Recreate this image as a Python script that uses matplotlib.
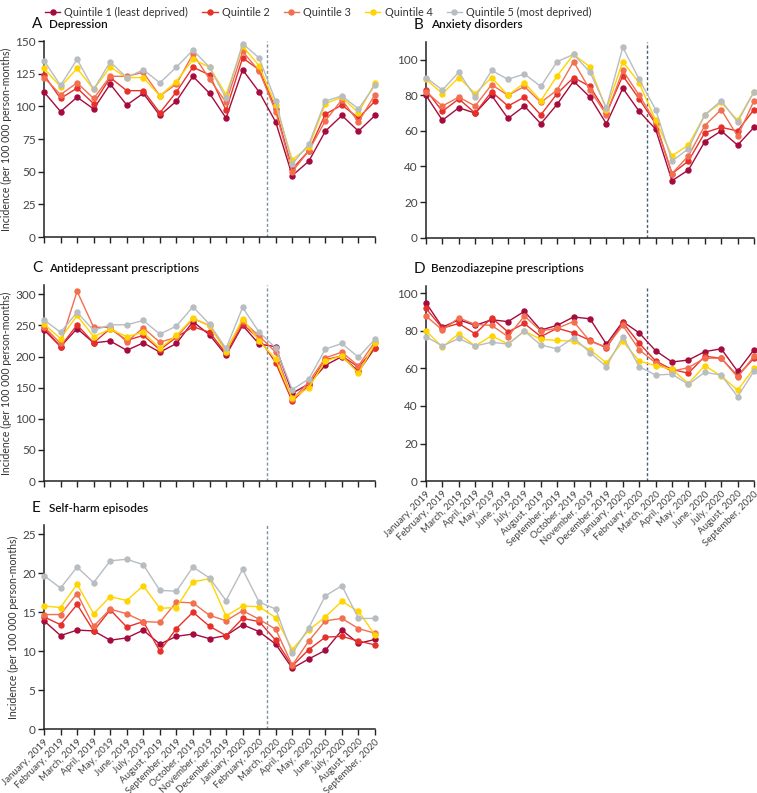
import matplotlib
matplotlib.use("Agg")
import matplotlib.pyplot as plt
from matplotlib.lines import Line2D

plt.rcParams['font.family'] = ['Lato', 'DejaVu Sans']

months = ["January, 2019", "February, 2019", "March, 2019", "April, 2019", "May, 2019",
          "June, 2019", "July, 2019", "August, 2019", "September, 2019", "October, 2019",
          "November, 2019", "December, 2019", "January, 2020", "February, 2020",
          "March, 2020", "April, 2020", "May, 2020", "June, 2020", "July, 2020",
          "August, 2020", "September, 2020"]

quintiles = ["Quintile 1 (least deprived)", "Quintile 2", "Quintile 3", "Quintile 4",
             "Quintile 5 (most deprived)"]
colors = ["#a50b3c", "#e8302a", "#f26f50", "#ffd400", "#b8bdc2"]

# A Depression
dep_q1 = [111, 96, 107, 98, 117, 101, 110, 93, 104, 123, 110, 91, 128, 111, 88, 47, 58, 81, 93, 81, 93]
dep_q2 = [124, 106, 114, 102, 122, 112, 112, 95, 111, 130, 124, 97, 137, 128, 98, 52, 66, 94, 101, 91, 104]
dep_q3 = [122, 109, 118, 106, 123, 123, 126, 108, 117, 140, 121, 103, 142, 127, 96, 50, 66, 89, 105, 88, 109]
dep_q4 = [129, 115, 129, 113, 130, 122, 122, 108, 119, 136, 130, 109, 146, 131, 101, 59, 69, 102, 107, 95, 118]
dep_q5 = [135, 116, 136, 113, 134, 122, 128, 118, 130, 143, 130, 106, 148, 137, 104, 56, 71, 104, 108, 98, 116]

# B Anxiety disorders
anx_q1 = [80, 66, 73, 70, 80, 67, 74, 64, 75, 88, 79, 64, 84, 71, 61, 32, 38, 54, 60, 52, 62]
anx_q2 = [83, 71, 78, 70, 82, 74, 79, 69, 81, 90, 85, 70, 91, 78, 64, 36, 43, 59, 62, 60, 72]
anx_q3 = [82, 74, 79, 74, 86, 80, 85, 76, 83, 99, 83, 69, 94, 80, 65, 36, 46, 63, 72, 57, 77]
anx_q4 = [89, 81, 90, 81, 90, 80, 87, 77, 91, 103, 96, 72, 99, 87, 66, 46, 52, 69, 76, 66, 82]
anx_q5 = [90, 83, 93, 79, 94, 89, 92, 85, 99, 103, 93, 73, 107, 89, 72, 43, 50, 69, 77, 65, 82]

# C Antidepressant prescriptions
adp_q1 = [243, 216, 245, 222, 225, 210, 222, 207, 221, 256, 235, 202, 250, 220, 216, 141, 156, 186, 200, 176, 214]
adp_q2 = [246, 216, 251, 222, 245, 226, 234, 211, 231, 248, 239, 205, 252, 229, 190, 128, 154, 195, 201, 183, 214]
adp_q3 = [248, 221, 305, 247, 247, 224, 246, 223, 231, 261, 250, 210, 257, 233, 207, 131, 159, 198, 207, 185, 224]
adp_q4 = [252, 229, 266, 232, 244, 232, 239, 213, 234, 262, 249, 208, 261, 225, 196, 133, 150, 193, 201, 173, 221]
adp_q5 = [259, 239, 271, 242, 251, 251, 258, 236, 249, 280, 252, 213, 279, 239, 214, 147, 164, 212, 221, 199, 228]

# D Benzodiazepine prescriptions
bzd_q1 = [95, 82, 86, 83, 86, 85, 90.5, 80.5, 83, 87.5, 86.5, 73, 85, 79, 69.5, 63.5, 64.5, 69, 70.5, 58.5, 70]
bzd_q2 = [92, 81.5, 84, 78.5, 87, 79.5, 84, 77, 81.5, 79, 75, 71, 84.5, 73.5, 64, 59.5, 57.5, 66.5, 65.5, 56, 65.5]
bzd_q3 = [88, 80.5, 87, 83.5, 83, 77, 88, 80, 81.5, 85, 74.5, 71.5, 83, 70, 63, 58.5, 60.5, 65.5, 65.5, 55.5, 66.5]
bzd_q4 = [80, 71.5, 78.5, 72, 77.5, 73, 80, 75.5, 75, 74.5, 70, 63, 74.5, 64, 61.5, 59.5, 52, 61.5, 56, 48.5, 60]
bzd_q5 = [77, 72, 76, 72, 74, 73, 80, 72.5, 70.5, 76.5, 68.5, 61, 77, 61, 56.5, 57, 51.5, 58, 56.5, 45, 58.5]

# E Self-harm episodes
sh_q1 = [13.9, 12.0, 12.7, 12.6, 11.4, 11.7, 12.7, 10.9, 11.9, 12.2, 11.6, 12.0, 13.4, 12.5, 10.9, 7.8, 9.0, 10.1, 12.7, 11.0, 11.5]
sh_q2 = [14.4, 13.4, 16.0, 12.6, 15.3, 13.1, 13.8, 10.0, 12.9, 15.0, 13.2, 12.0, 14.2, 13.8, 11.4, 8.1, 10.2, 11.8, 11.9, 11.3, 10.8]
sh_q3 = [14.7, 14.7, 17.4, 13.2, 15.4, 14.8, 13.8, 13.7, 16.3, 16.2, 14.6, 13.9, 15.2, 14.1, 12.8, 8.2, 11.3, 13.9, 14.2, 12.9, 12.3]
sh_q4 = [15.8, 15.6, 18.6, 14.8, 17.0, 16.5, 18.4, 15.5, 15.6, 18.9, 19.3, 14.5, 15.8, 15.7, 14.3, 10.2, 12.7, 14.4, 16.4, 15.1, 12.1]
sh_q5 = [19.7, 18.1, 20.8, 18.8, 21.6, 21.8, 21.1, 17.8, 17.7, 20.8, 19.4, 16.5, 20.5, 16.3, 15.4, 9.7, 13.0, 17.1, 18.4, 14.2, 14.2]

panels = [
    ("A", "Depression", [dep_q1, dep_q2, dep_q3, dep_q4, dep_q5], 150, [0, 25, 50, 75, 100, 125, 150], False, True),
    ("B", "Anxiety disorders", [anx_q1, anx_q2, anx_q3, anx_q4, anx_q5], 110, [0, 20, 40, 60, 80, 100], False, False),
    ("C", "Antidepressant prescriptions", [adp_q1, adp_q2, adp_q3, adp_q4, adp_q5], 315, [0, 50, 100, 150, 200, 250, 300], False, True),
    ("D", "Benzodiazepine prescriptions", [bzd_q1, bzd_q2, bzd_q3, bzd_q4, bzd_q5], 104, [0, 20, 40, 60, 80, 100], True, False),
    ("E", "Self-harm episodes", [sh_q1, sh_q2, sh_q3, sh_q4, sh_q5], 26.2, [0, 5, 10, 15, 20, 25], True, True),
]
dash_colors = ["#7d939f", "#4f606c", "#7d939f", "#4f606c", "#7d939f"]

W, H = 757, 793
fig = plt.figure(figsize=(W / 100, H / 100), dpi=100)

# pixel boxes: left, right, top, bottom
boxes = [
    (44, 375, 41, 237),
    (426, 754, 42, 237.6),
    (44, 375, 285, 481),
    (426, 754, 286, 481),
    (44, 375, 525, 729),
]

x = list(range(len(months)))
for (letter, title, series, ymax, yticks, show_x, show_ylabel), (l, r, t, b), dc in zip(panels, boxes, dash_colors):
    ax = fig.add_axes([l / W, 1 - b / H, (r - l) / W, (b - t) / H])
    for vals, c in zip(series, colors):
        ax.plot(x, vals, color=c, lw=1.0, marker='o', ms=3.6, mec=c, mfc=c, clip_on=False, zorder=3)
    ax.axvline(13.5, color=dc, lw=1.0, ls=(0, (2.2, 1.6)), zorder=1)
    ax.set_xlim(0, 20)
    ax.set_ylim(0, ymax)
    ax.set_yticks(yticks)
    ax.set_xticks(x)
    if show_x:
        ax.set_xticklabels(months, rotation=45, ha='right', rotation_mode='anchor', fontsize=7.0, color='#444444')
    else:
        ax.set_xticklabels([])
    for s in ['top', 'right']:
        ax.spines[s].set_visible(False)
    for s in ['left', 'bottom']:
        ax.spines[s].set_linewidth(1.1)
        ax.spines[s].set_color('#222222')
    ax.tick_params(axis='both', direction='out', length=4, width=1, color='#222222',
                   labelsize=8.5, labelcolor='#444444', pad=2)
    ax.tick_params(axis='x', labelsize=7.0)
    if show_ylabel:
        ax.set_ylabel("Incidence (per 100 000 person-months)", fontsize=7.6, color='#333333', labelpad=2)
    fig.text((l - 12) / W, 1 - (t - 17) / H, letter, fontsize=11, color='#111111', va='center', ha='left')
    fig.text((l + 5) / W, 1 - (t - 17) / H, title, fontsize=8.5, color='#111111', va='center', ha='left',
             fontweight='semibold')

handles = [Line2D([0], [0], color=c, lw=1.0, marker='o', ms=3.6) for c in colors]
fig.legend(handles, quintiles, loc='center left', bbox_to_anchor=(45 / W, 1 - 12 / H), ncol=5,
           frameon=False, fontsize=7.8, handlelength=1.4, handletextpad=0.4,
           columnspacing=1.3, labelcolor='#333333', borderaxespad=0, borderpad=0)

fig.savefig("out.png", dpi=100)
